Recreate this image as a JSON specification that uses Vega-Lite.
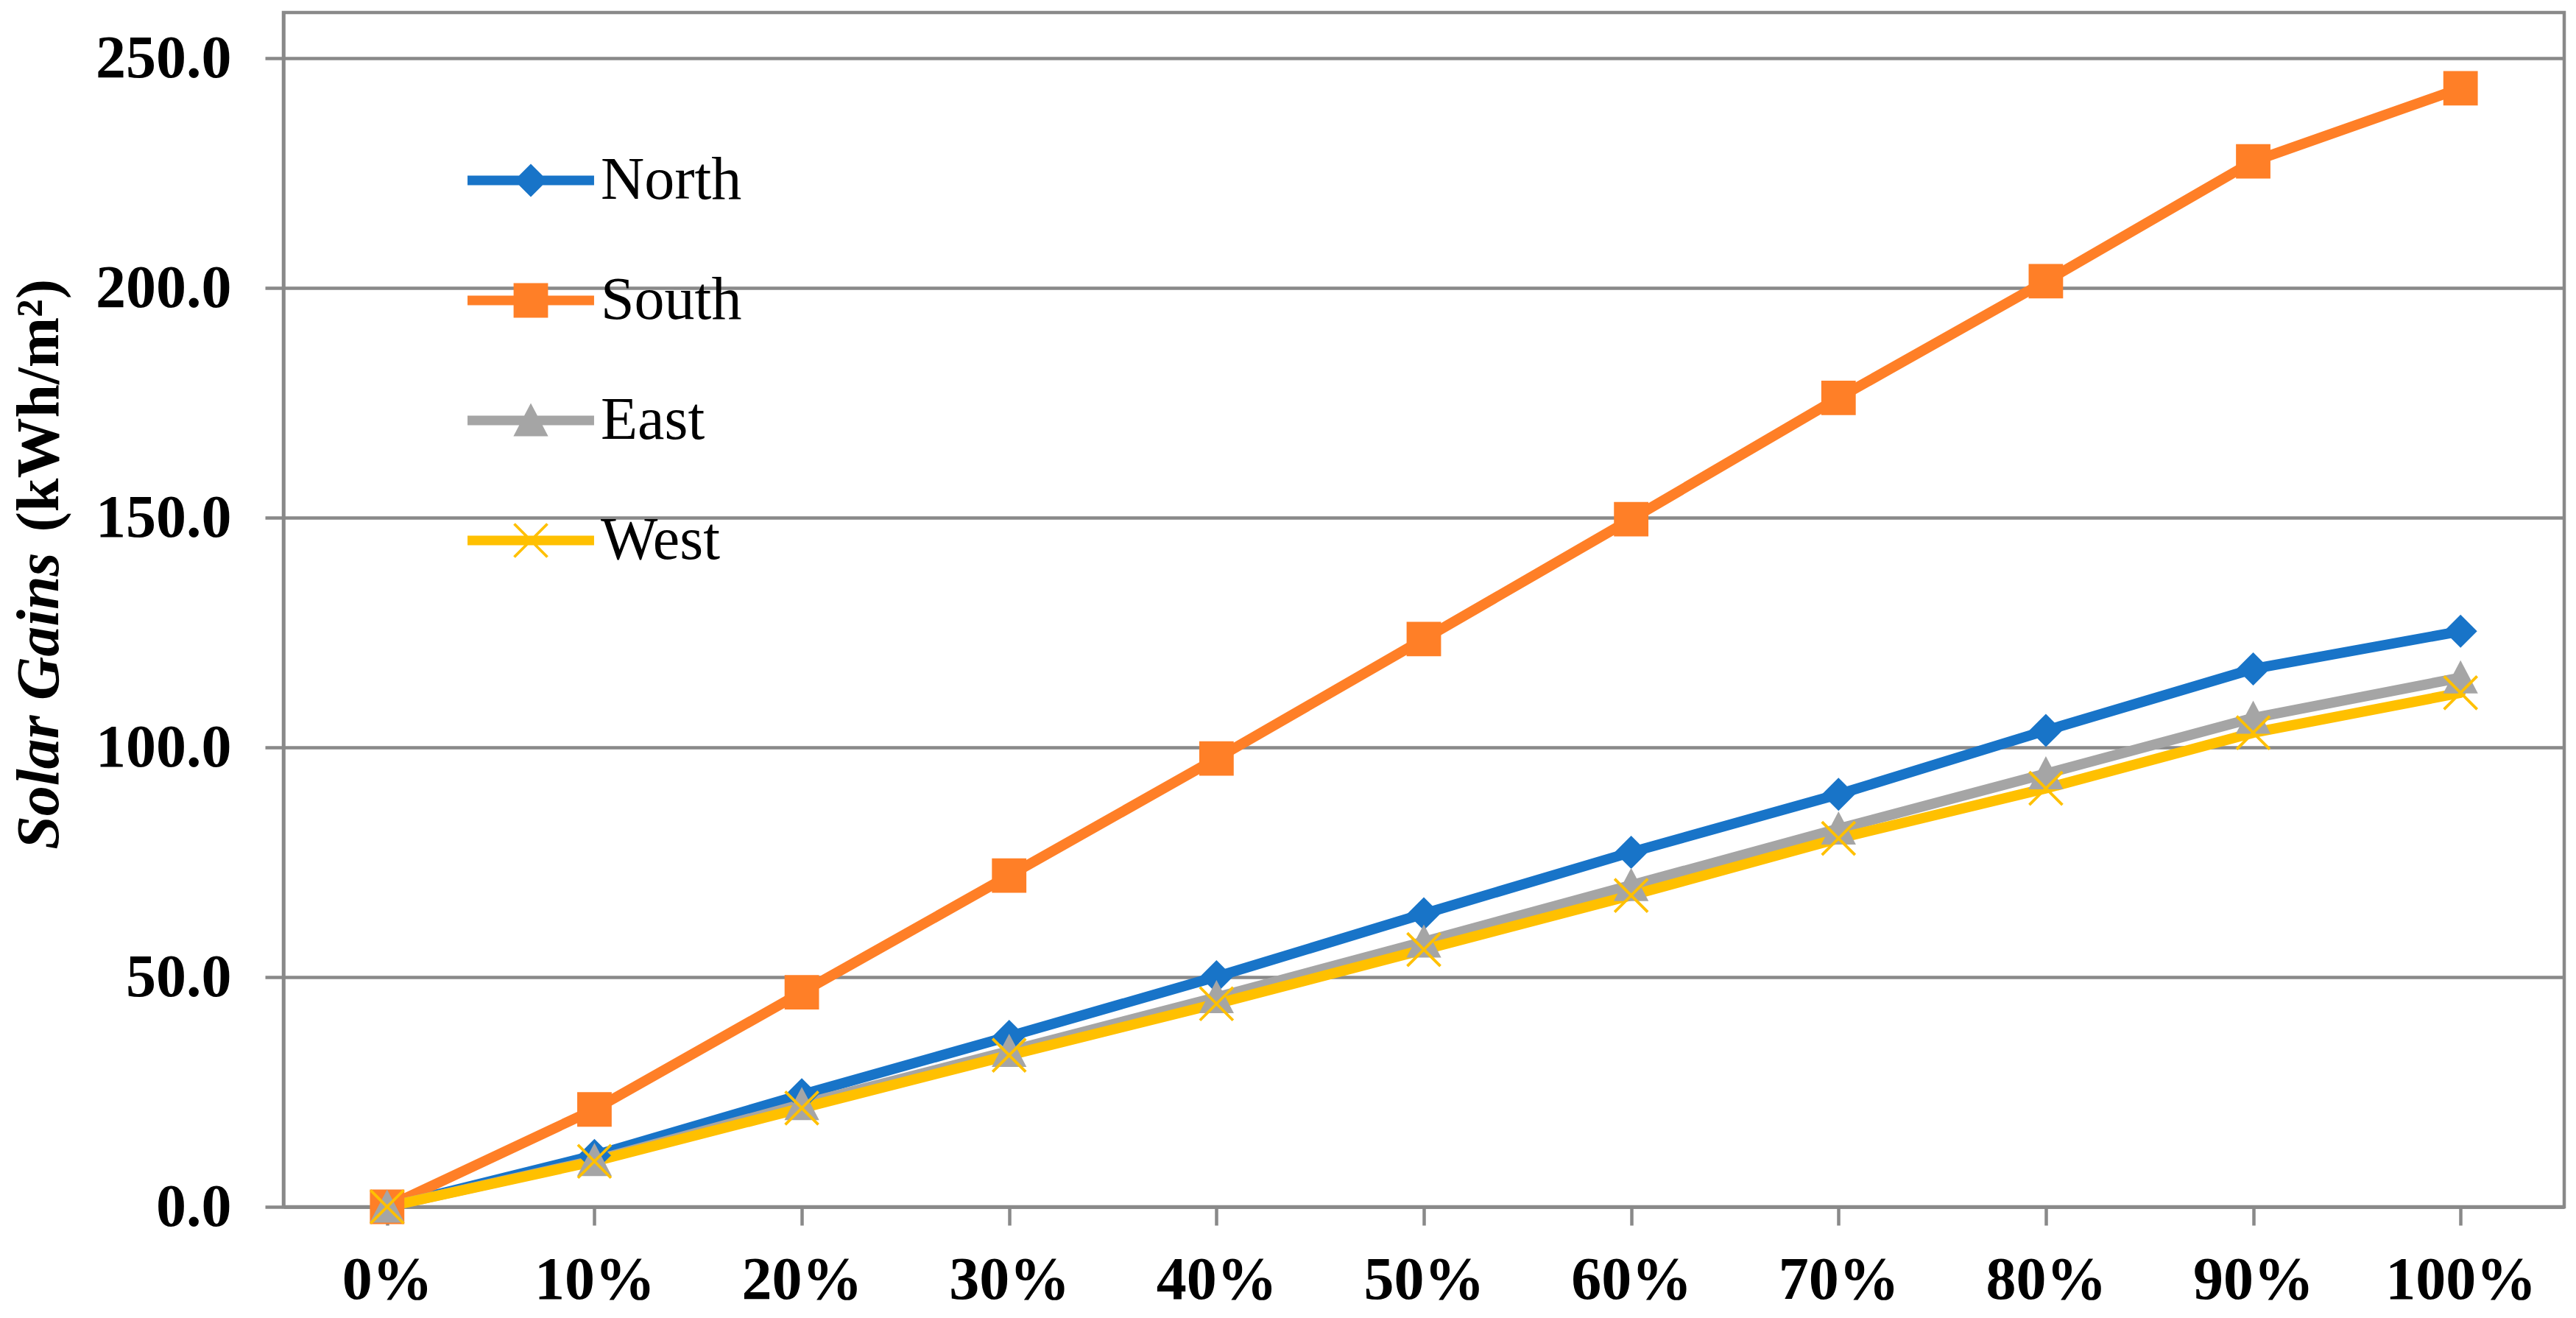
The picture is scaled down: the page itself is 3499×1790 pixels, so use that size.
{
  "$schema": "https://vega.github.io/schema/vega-lite/v6.json",
  "width": 3098,
  "height": 1622,
  "autosize": {"type": "none"},
  "padding": {"left": 385, "top": 17, "right": 16, "bottom": 151},
  "background": "white",
  "data": {
    "values": [
      {"pct": "0%", "series": "North", "value": 0},
      {"pct": "10%", "series": "North", "value": 11.2},
      {"pct": "20%", "series": "North", "value": 24.4},
      {"pct": "30%", "series": "North", "value": 37.1},
      {"pct": "40%", "series": "North", "value": 50.1},
      {"pct": "50%", "series": "North", "value": 63.8},
      {"pct": "60%", "series": "North", "value": 77.2},
      {"pct": "70%", "series": "North", "value": 89.8},
      {"pct": "80%", "series": "North", "value": 103.7},
      {"pct": "90%", "series": "North", "value": 117.1},
      {"pct": "100%", "series": "North", "value": 125.3},
      {"pct": "0%", "series": "South", "value": 0},
      {"pct": "10%", "series": "South", "value": 21.2},
      {"pct": "20%", "series": "South", "value": 46.7},
      {"pct": "30%", "series": "South", "value": 72.1},
      {"pct": "40%", "series": "South", "value": 97.6},
      {"pct": "50%", "series": "South", "value": 123.6},
      {"pct": "60%", "series": "South", "value": 149.7},
      {"pct": "70%", "series": "South", "value": 176.1},
      {"pct": "80%", "series": "South", "value": 201.5},
      {"pct": "90%", "series": "South", "value": 227.6},
      {"pct": "100%", "series": "South", "value": 243.5},
      {"pct": "0%", "series": "East", "value": 0},
      {"pct": "10%", "series": "East", "value": 10.1},
      {"pct": "20%", "series": "East", "value": 22.3},
      {"pct": "30%", "series": "East", "value": 33.9},
      {"pct": "40%", "series": "East", "value": 45.6},
      {"pct": "50%", "series": "East", "value": 57.7},
      {"pct": "60%", "series": "East", "value": 70.0},
      {"pct": "70%", "series": "East", "value": 82.3},
      {"pct": "80%", "series": "East", "value": 94.3},
      {"pct": "90%", "series": "East", "value": 106.4},
      {"pct": "100%", "series": "East", "value": 115.2},
      {"pct": "0%", "series": "West", "value": 0},
      {"pct": "10%", "series": "West", "value": 9.9},
      {"pct": "20%", "series": "West", "value": 21.5},
      {"pct": "30%", "series": "West", "value": 33.0},
      {"pct": "40%", "series": "West", "value": 44.2},
      {"pct": "50%", "series": "West", "value": 56.0},
      {"pct": "60%", "series": "West", "value": 67.8},
      {"pct": "70%", "series": "West", "value": 80.2},
      {"pct": "80%", "series": "West", "value": 91.1},
      {"pct": "90%", "series": "West", "value": 103.2},
      {"pct": "100%", "series": "West", "value": 111.9}
    ]
  },
  "layer": [
    {
      "mark": {"type": "line", "strokeWidth": 14, "strokeCap": "round", "strokeJoin": "round"},
      "encoding": {
        "x": {
          "field": "pct",
          "type": "ordinal",
          "sort": ["0%", "10%", "20%", "30%", "40%", "50%", "60%", "70%", "80%", "90%", "100%"],
          "scale": {"type": "point", "padding": 0.5},
          "axis": {"title": null, "labelAngle": 0, "labelPadding": 34, "tickSize": 25, "grid": false}
        },
        "y": {
          "field": "value",
          "type": "quantitative",
          "scale": {"domain": [0, 260], "nice": false},
          "axis": {
            "orient": "left",
            "title": "Solar Gains",
            "titleFontStyle": "italic",
            "titleX": -307,
            "titleY": 733,
            "titleAlign": "right",
            "titleBaseline": "alphabetic",
            "titleAngle": -90,
            "values": [0, 50, 100, 150, 200, 250],
            "format": ".1f",
            "labelPadding": 46,
            "tickSize": 25,
            "grid": true
          }
        },
        "color": {
          "field": "series",
          "type": "nominal",
          "scale": {"domain": ["North", "South", "East", "West"], "range": ["#1874C8", "#FF7F27", "#A5A5A5", "#FFC000"]},
          "legend": null
        }
      }
    },
    {
      "mark": {"type": "point", "filled": true, "opacity": 1, "size": 2025, "strokeWidth": 0},
      "encoding": {
        "x": {
          "field": "pct",
          "type": "ordinal",
          "sort": ["0%", "10%", "20%", "30%", "40%", "50%", "60%", "70%", "80%", "90%", "100%"],
          "scale": {"type": "point", "padding": 0.5},
          "axis": {"title": null, "labelAngle": 0, "labelPadding": 34, "tickSize": 25, "grid": false}
        },
        "y": {
          "field": "value",
          "type": "quantitative",
          "scale": {"domain": [0, 260], "nice": false},
          "axis": {
            "orient": "left",
            "title": "(kWh/m²)",
            "titleFontStyle": "normal",
            "titleX": -307,
            "titleY": 705,
            "titleAlign": "left",
            "titleBaseline": "alphabetic",
            "titleAngle": -90,
            "labels": false,
            "ticks": false,
            "domain": false,
            "grid": false
          }
        },
        "color": {
          "field": "series",
          "type": "nominal",
          "scale": {"domain": ["North", "South", "East", "West"], "range": ["#1874C8", "#FF7F27", "#A5A5A5", "#FFC000"]},
          "legend": null
        },
        "shape": {
          "field": "series",
          "type": "nominal",
          "scale": {
            "domain": ["North", "South", "East", "West"],
            "range": [
              "M0,-1L1,0L0,1L-1,0Z",
              "M-1.04,-1.04L1.04,-1.04L1.04,1.04L-1.04,1.04Z",
              "M0,-1.05L1.05,0.95L-1.05,0.95Z",
              "M-0.94,-1.06L1.06,0.94L0.94,1.06L-1.06,-0.94ZM0.94,-1.06L1.06,-0.94L-0.94,1.06L-1.06,0.94Z"
            ]
          },
          "legend": null
        }
      }
    },
    {
      "transform": [{"filter": "false"}],
      "mark": {
        "type": "point",
        "filled": true,
        "opacity": 1,
        "size": 2025,
        "strokeWidth": 0,
        "fill": {"expr": "datum.value === 'North' ? '#1874C8' : datum.value === 'South' ? '#FF7F27' : datum.value === 'East' ? '#A5A5A5' : '#FFC000'"}
      },
      "encoding": {
        "shape": {
          "field": "series",
          "type": "nominal",
          "scale": {
            "domain": ["North", "South", "East", "West"],
            "range": [
              "M-3.82,-0.29L3.82,-0.29L3.82,0.29L-3.82,0.29ZM0,-1L1,0L0,1L-1,0Z",
              "M-3.82,-0.29L3.82,-0.29L3.82,0.29L-3.82,0.29ZM-1.04,-1.04L1.04,-1.04L1.04,1.04L-1.04,1.04Z",
              "M-3.82,-0.29L3.82,-0.29L3.82,0.29L-3.82,0.29ZM0,-1.05L1.05,0.95L-1.05,0.95Z",
              "M-3.82,-0.29L3.82,-0.29L3.82,0.29L-3.82,0.29ZM-0.94,-1.06L1.06,0.94L0.94,1.06L-1.06,-0.94ZM0.94,-1.06L1.06,-0.94L-0.94,1.06L-1.06,0.94Z"
            ]
          },
          "legend": {"title": null, "orient": "none", "legendX": 295, "legendY": 187}
        }
      }
    }
  ],
  "resolve": {
    "scale": {"shape": "independent"},
    "axis": {"y": "independent"}
  },
  "config": {
    "view": {"stroke": "#898989", "strokeWidth": 4.5},
    "axis": {
      "labelFont": "Liberation Serif",
      "labelFontSize": 82,
      "labelFontWeight": "bold",
      "labelColor": "#000000",
      "labelLimit": 1000,
      "titleFont": "Liberation Serif",
      "titleFontSize": 82,
      "titleFontWeight": "bold",
      "titleColor": "#000000",
      "titleLimit": 2000,
      "domainColor": "#898989",
      "domainWidth": 4.5,
      "tickColor": "#898989",
      "tickWidth": 4.5,
      "gridColor": "#898989",
      "gridWidth": 4.5,
      "labelOverlap": false,
      "labelFlush": false
    },
    "legend": {
      "labelFont": "Liberation Serif",
      "labelFontSize": 82,
      "labelColor": "#000000",
      "symbolSize": 2025,
      "symbolStrokeWidth": 0,
      "symbolOpacity": 1,
      "labelOffset": 54,
      "rowPadding": 81,
      "padding": 0,
      "labelLimit": 1000
    }
  }
}
